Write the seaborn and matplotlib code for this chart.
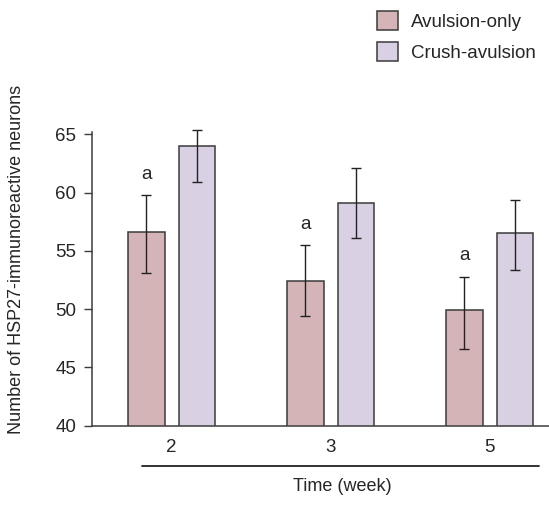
import pandas as pd
import numpy as np
import matplotlib
matplotlib.use("Agg")
import matplotlib.pyplot as plt
import seaborn as sns

weeks = ["2", "3", "5"]
groups = ["Avulsion-only", "Crush-avulsion"]
avulsion = [56.6, 52.4, 49.9]
crush = [64.0, 59.1, 56.5]
# error bars (lower, upper)
avulsion_lo = [3.5, 3.0, 3.3]
avulsion_hi = [3.2, 3.1, 2.9]
crush_lo = [3.1, 3.0, 3.1]
crush_hi = [1.4, 3.0, 2.9]
sig_labels = ["a", "a", "a"]

df = pd.DataFrame({
    "week": weeks * 2,
    "group": [groups[0]] * 3 + [groups[1]] * 3,
    "value": avulsion + crush,
})

sns.set_style("white")
plt.rcParams["font.family"] = ["Liberation Sans", "DejaVu Sans"]

fig = plt.figure(figsize=(5.49, 5.05), dpi=100)
ax = fig.add_axes([0.1676, 0.157, 0.8324, 0.581])

pink = "#d9afb1"
purple = "#d9cde6"
edge = "#3a3a3a"

sns.barplot(data=df, x="week", y="value", hue="group", order=weeks,
            hue_order=groups, palette=[pink, purple], width=0.63, gap=0.28,
            edgecolor=edge, linewidth=1.1, errorbar=None, ax=ax)

# error bars on top of the bars
los = [avulsion_lo, crush_lo]
his = [avulsion_hi, crush_hi]
bar_conts = list(ax.containers)
for k, cont in enumerate(bar_conts):
    xs = [p.get_x() + p.get_width() / 2 for p in cont.patches]
    hs = [p.get_height() + p.get_y() for p in cont.patches]
    ax.errorbar(xs, hs, yerr=[los[k], his[k]], fmt="none", ecolor="#222222",
                elinewidth=1.0, capsize=3.5, capthick=1.0, clip_on=False)
    if k == 0:
        for x, h, up, s in zip(xs, hs, his[k], sig_labels):
            ax.text(x, h + up + 1.8, s, ha="center", va="center", fontsize=13.5)

ax.set_ylim(40, 65.18)
ax.set_xlim(-0.5, 2.374)
ax.set_yticks([40, 45, 50, 55, 60, 65])

sns.despine(ax=ax)
for s in ["left", "bottom"]:
    ax.spines[s].set_color("#3c3c3c")
    ax.spines[s].set_linewidth(1.1)

ax.tick_params(axis="y", length=5.8, width=1, color="#3c3c3c", pad=5.5,
               labelsize=13.5, left=True)
ax.tick_params(axis="x", length=0, pad=9.5, labelsize=13.5)

# second line under the tick labels
ax.plot([-0.187, 2.311], [-0.137, -0.137], color="#222222", lw=1.3,
        transform=ax.get_xaxis_transform(), clip_on=False)

ax.set_xlabel("Time (week)", fontsize=13)
ax.xaxis.set_label_coords(0.548, -0.178)
ax.set_ylabel("Number of HSP27-immunoreactive neurons", fontsize=13)
ax.yaxis.set_label_coords(-0.147, 0.566)

handles, labels = ax.get_legend_handles_labels()
ax.legend(handles, labels, loc="upper left", bbox_to_anchor=(0.6867, 0.978),
          bbox_transform=fig.transFigure, frameon=False, fontsize=13.5,
          handlelength=1.1, handleheight=1.15, handletextpad=0.72,
          labelspacing=0.6, borderpad=0, borderaxespad=0)

fig.savefig("out.png", dpi=100)
